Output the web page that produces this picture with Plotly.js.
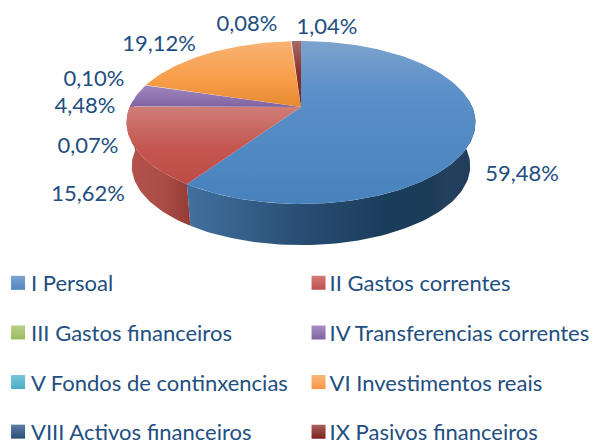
<!DOCTYPE html>
<html><head><meta charset="utf-8">
<script src="https://cdn.plot.ly/plotly-3.0.1.min.js"></script>
<style>html,body{margin:0;padding:0;background:#fff;overflow:hidden}#c{width:597px;height:443px}</style>
</head><body><div id="c"></div>
<script>
const categories = ["I Persoal","II Gastos correntes","III Gastos financeiros","IV Transferencias correntes","V Fondos de continxencias","VI Investimentos reais","VIII Activos financeiros","IX Pasivos financeiros"];
const values = [59.48,15.62,0.07,4.48,0.10,19.12,0.08,1.04];
const topColours = [
  [[0,"#7da3ce"],[0.3,"#5b90c9"],[1,"#4782bd"]],
  [[0,"#cf7d78"],[0.55,"#c4554f"],[1,"#bd4c46"]],
  [[0,"#b5cd82"],[1,"#9bbb59"]],
  [[0,"#a085bd"],[1,"#8064a2"]],
  [[0,"#6fc0d6"],[1,"#4bacc6"]],
  [[0,"#fab273"],[0.6,"#f79d48"],[1,"#e58a30"]],
  [[0,"#4f7096"],[1,"#2c4d75"]],
  [[0,"#a56a66"],[0.5,"#8c2f2b"],[1,"#7d2320"]]
];
const wallColours = [
  [[0,"#41719f"],[0.38,"#2a4f75"],[0.68,"#1b3d5c"],[0.84,"#1b3b59"],[0.9,"#253f5e"],[1,"#223c5b"]],
  [[0,"#b5544d"],[0.6,"#aa4b45"],[1,"#953a35"]],
  [[0,"#7d9645"],[1,"#7d9645"]],[[0,"#64497f"],[1,"#64497f"]],
  [[0,"#378aa0"],[1,"#378aa0"]],[[0,"#c9752f"],[1,"#c9752f"]],
  [[0,"#1f3a5a"],[1,"#1f3a5a"]],[[0,"#6e1f1c"],[1,"#6e1f1c"]]
];
const legendSwatch = [["#7da3ce","#4f86c2"],["#d47a75","#c0504d"],["#b9d08a","#9bbb59"],["#a78fc2","#8064a2"],["#76c6da","#4bacc6"],["#fbb87a","#f79646"],["#5c7ea6","#2c4d75"],["#a8625e","#7f1f1c"]];
const labelAnchors = [[522,175],[88,195],[88,147],[85,107],[94,80],[159,45],[247,25],[327,28]];
const textColour = "#224e80";
const fontFamily = "Lato, Carlito, sans-serif";

// projection of the tilted disc
const cx=301, cy=107, a=171.3, b=78.55, k=0.19, wallDrop=44, wallScale=0.97;
function proj(deg, s, dy){
  const t=deg*Math.PI/180, u=Math.sin(t), v=-Math.cos(t), w=1-k*v;
  return [cx+s*a*u/w, cy+dy+s*b*v/w];
}
function arc(d0,d1,s,dy){
  const pts=[], n=Math.max(2,Math.ceil(Math.abs(d1-d0)/1.5));
  for(let i=0;i<=n;i++) pts.push(proj(d0+(d1-d0)*i/n,s,dy));
  return pts;
}
// the y axis runs downwards, so the vertical gradient is given bottom-first
const flip=cs=>cs.map(([p,c])=>[1-p,c]).reverse();
const traces=[];
let acc=0; const spans=values.map(v=>{const s=[acc,acc+v];acc+=v;return s;});
const total=acc;
const deg=p=>p/total*360;
// side wall
spans.forEach((sp,i)=>{
  const d0=Math.max(deg(sp[0]),85), d1=Math.min(deg(sp[1]),275);
  if(d1<=d0) return;
  const pts=arc(d0,d1,1,0).concat(arc(d1,d0,wallScale,wallDrop));
  traces.push({type:"scatter",mode:"lines",x:pts.map(p=>p[0]).concat(pts[0][0]),y:pts.map(p=>p[1]).concat(pts[0][1]),
    fill:"toself",line:{width:0},fillgradient:{type:"horizontal",colorscale:wallColours[i]},showlegend:false,hoverinfo:"skip"});
});
// top face
spans.forEach((sp,i)=>{
  const pts=[[cx,cy]].concat(arc(deg(sp[0]),deg(sp[1]),1,0)); pts.push([cx,cy]);
  traces.push({type:"scatter",mode:"lines",x:pts.map(p=>p[0]),y:pts.map(p=>p[1]),
    fill:"toself",line:{width:0},fillgradient:{type:"vertical",colorscale:flip(topColours[i])},showlegend:false,hoverinfo:"text",text:categories[i]});
});
// data labels
traces.push({type:"scatter",mode:"text",x:labelAnchors.map(p=>p[0]),y:labelAnchors.map(p=>p[1]),
  text:values.map(v=>v.toFixed(2).replace(".",",")+"%"),textposition:"middle center",
  textfont:{family:fontFamily,size:22,color:textColour},showlegend:false,hoverinfo:"skip",cliponaxis:false});
// legend entries
categories.forEach((c,i)=>{
  traces.push({type:"scatter",mode:"markers",x:[null],y:[null],name:c,legendgroup:"g"+i,
    legend:i%2?"legend2":"legend",
    marker:{symbol:"square",size:14,color:legendSwatch[i][0],gradient:{type:"vertical",color:legendSwatch[i][1]},line:{width:0}}});
});
const legendBase={traceorder:"grouped",tracegroupgap:18,font:{family:fontFamily,size:22,color:textColour},bgcolor:"rgba(0,0,0,0)",borderwidth:0,
  itemsizing:"trace",itemwidth:30,yanchor:"top",xanchor:"left",y:0.4085};
const layout={width:597,height:443,margin:{l:0,r:0,t:0,b:0,autoexpand:false},paper_bgcolor:"#fff",plot_bgcolor:"#fff",showlegend:true,
  xaxis:{range:[0,597],visible:false,fixedrange:true},
  yaxis:{range:[443,0],visible:false,fixedrange:true},
  legend:Object.assign({},legendBase,{x:-0.015}),
  legend2:Object.assign({},legendBase,{x:0.485})};
Plotly.newPlot("c",traces,layout,{displayModeBar:false,staticPlot:true}).then(gd=>{
  // the swatches sit right next to their text in this chart
  [["legend",7],["legend2",9]].forEach(([name,dx])=>{
    gd.querySelectorAll("g."+name+" .legendpoints").forEach(g=>g.setAttribute("transform","translate("+dx+",0)"));
  });
});
</script></body></html>
